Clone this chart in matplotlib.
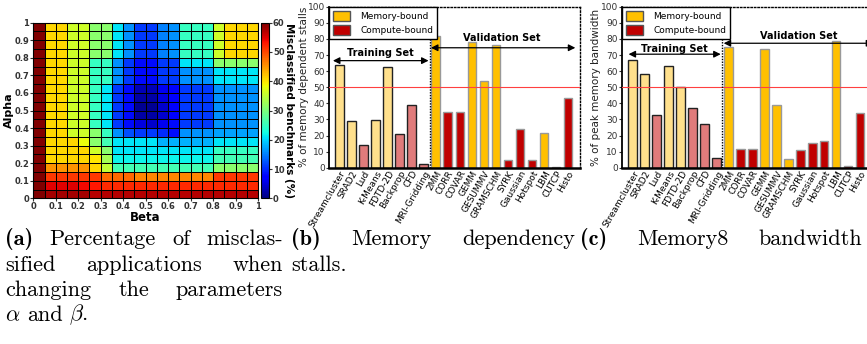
import numpy as np
import matplotlib.pyplot as plt
from matplotlib.patches import Patch

plt.rcParams['mathtext.fontset'] = 'cm'

# --- (a) misclassified benchmarks (%) ; rows: alpha bins bottom->top, cols: beta bins
top4 = [60, 41, 41, 36, 36, 31, 31, 21, 16, 11, 11, 15, 16, 25, 25, 25, 36, 41, 41, 41]
misclassified = [
    [60, 58, 58, 58, 58, 57, 57, 57, 57, 57, 57, 57, 57, 57, 57, 57, 57, 57, 57, 57],
    [60, 55, 55, 55, 54, 53, 52, 52, 52, 52, 52, 52, 52, 52, 52, 52, 52, 52, 52, 52],
    [60, 51, 51, 51, 51, 51, 48, 48, 48, 46, 46, 46, 46, 46, 46, 46, 51, 51, 51, 51],
    [60, 45, 45, 45, 45, 41, 35, 26, 26, 26, 26, 26, 26, 26, 26, 26, 31, 31, 31, 31],
    [60, 41, 41, 41, 41, 40, 33, 22, 22, 22, 22, 22, 22, 22, 22, 22, 26, 26, 26, 26],
    [60, 41, 41, 41, 41, 36, 31, 21, 21, 21, 21, 21, 21, 21, 21, 21, 25, 25, 25, 25],
    [60, 41, 41, 41, 38, 31, 26, 21, 21, 21, 21, 18, 18, 18, 18, 18, 21, 21, 21, 21],
    [60, 41, 41, 36, 36, 31, 25, 16, 12, 11, 11, 10, 8, 16, 16, 16, 17, 17, 17, 17],
    [60, 41, 41, 36, 36, 25, 21, 11, 8, 5, 4, 6, 8, 11, 11, 11, 16, 16, 16, 16],
    [60, 41, 41, 36, 36, 25, 21, 11, 8, 2, 2, 4, 7, 11, 11, 11, 16, 16, 16, 16],
    [60, 41, 41, 36, 36, 25, 21, 11, 8, 1, 1, 4, 7, 11, 11, 11, 16, 16, 16, 16],
    [60, 41, 41, 36, 36, 25, 21, 11, 8, 2, 2, 5, 7, 11, 11, 11, 16, 16, 16, 16],
    [60, 41, 41, 36, 36, 25, 21, 11, 8, 3, 3, 6, 7, 11, 11, 11, 16, 16, 16, 16],
    [60, 41, 41, 36, 36, 25, 25, 16, 11, 8, 8, 11, 11, 16, 16, 16, 21, 21, 21, 21],
    [60, 41, 41, 36, 36, 25, 25, 16, 11, 8, 8, 11, 11, 16, 16, 16, 21, 21, 21, 21],
    [60, 41, 41, 36, 36, 25, 25, 16, 11, 8, 8, 11, 11, 21, 21, 21, 31, 31, 31, 31],
    top4, top4, top4, top4,
]
tick_vals = [0, 0.1, 0.2, 0.3, 0.4, 0.5, 0.6, 0.7, 0.8, 0.9, 1]
tick_labels = ['0', '0.1', '0.2', '0.3', '0.4', '0.5', '0.6', '0.7', '0.8', '0.9', '1']

# --- (b), (c) per-benchmark data
benchmarks = ['Streamcluster', 'SRAD2', 'Lud', 'K-Means', 'FDTD-2D', 'Backprop', 'CFD',
              'MRI-Gridding', '2MM', 'CORR', 'COVAR', 'GEMM', 'GESUMMV', 'GRAMSCHM',
              'SYRK', 'Gaussian', 'Hotspot', 'LBM', 'CUTCP', 'Histo']
memory_bound = [1, 1, 0, 1, 1, 0, 0, 0, 1, 0, 0, 1, 1, 1, 0, 0, 0, 1, 0, 0]
n_training = 8
mem_stalls = [63.5, 29, 14, 29.5, 62.5, 21, 39, 2.5, 81.5, 34.5, 34.5, 78, 54, 76.5,
              5, 24, 5, 21.5, 0.4, 43.5]
peak_bw = [67, 58.5, 32.5, 63, 50, 37, 27, 6, 75, 11.5, 11.5, 74, 39, 5.5,
           11, 15.5, 16.5, 79, 1, 34]

fig = plt.figure(figsize=(8.67, 3.44), dpi=100)

# ---------------- heatmap ----------------
ax = fig.add_axes([0.0384, 0.4235, 0.2592, 0.5105])
edges = np.linspace(0, 1, 21)
mesh = ax.pcolormesh(edges, edges, np.array(misclassified), cmap='jet', vmin=0, vmax=60,
                     edgecolors='black', linewidth=0.65)
ax.set_xlim(0, 1)
ax.set_ylim(0, 1)
ax.set_xticks(tick_vals)
ax.set_xticklabels(tick_labels)
ax.set_yticks(tick_vals)
ax.set_yticklabels(tick_labels)
ax.tick_params(length=2, pad=1, labelsize=6, colors='#333333')
for lab in ax.get_xticklabels() + ax.get_yticklabels():
    lab.set_fontweight('bold')
ax.set_xlabel('Beta', fontsize=8.5, fontweight='bold')
ax.set_ylabel('Alpha', fontsize=8, fontweight='bold')
ax.xaxis.set_label_coords(0.5, -0.075)
ax.yaxis.set_label_coords(-0.086, 0.5)

cax = fig.add_axes([0.301, 0.4235, 0.0098, 0.5105])
cb = fig.colorbar(mesh, cax=cax, ticks=[0, 10, 20, 30, 40, 50, 60])
cb.ax.tick_params(length=2, pad=0.5, labelsize=6, colors='#333333')
for lab in cb.ax.get_yticklabels():
    lab.set_fontweight('bold')
cb.set_label('Misclassified benchmarks (%)', rotation=270, fontsize=7.5, fontweight='bold',
             va='center')
cb.ax.yaxis.set_label_coords(3.35, 0.5)


# ---------------- bar panels ----------------
def bar_panel(rect, values, ylabel, xlim, label_x, train_arrow, val_arrow):
    axb = fig.add_axes(rect)
    x = np.arange(len(benchmarks))
    for i, v in enumerate(values):
        train = i < n_training
        if memory_bound[i]:
            c = '#FFE08C' if train else '#FFC000'
        else:
            c = '#E07B7B' if train else '#C00000'
        axb.bar(x[i], v, width=0.72, color=c,
                edgecolor='#222222' if train else '#999999', linewidth=1.0, zorder=2)
    axb.axhline(50, color='#FF4040', linewidth=0.8, zorder=3)
    axb.axvline(n_training - 0.5, color='black', linewidth=1.0, linestyle=(0, (1, 1)), zorder=3)
    axb.set_xlim(*xlim)
    axb.set_ylim(0, 100)
    axb.set_yticks(np.arange(0, 101, 10))
    axb.tick_params(axis='y', length=2, pad=1, labelsize=6.5, colors='#333333')
    axb.tick_params(axis='x', length=0, pad=1, labelsize=6.5)
    axb.set_xticks(x)
    axb.set_xticklabels(benchmarks, rotation=60, ha='right', rotation_mode='anchor')
    axb.set_ylabel(ylabel, fontsize=7.5, color='#222222')
    axb.yaxis.set_label_coords(label_x, 0.5)
    axb.spines['left'].set_linewidth(1.3)
    axb.spines['bottom'].set_linewidth(1.8)
    for s in ('top', 'right'):
        axb.spines[s].set_linestyle((0, (1, 1.5)))
        axb.spines[s].set_linewidth(1.0)

    handles = [Patch(facecolor='#FFC000', edgecolor='#555555', label='Memory-bound'),
               Patch(facecolor='#C00000', edgecolor='#555555', label='Compute-bound')]
    leg = axb.legend(handles=handles, loc='upper left', bbox_to_anchor=(0, 1),
                     borderaxespad=0, fontsize=6.5, fancybox=False, framealpha=1,
                     edgecolor='black', handlelength=1.9, handleheight=1.3,
                     handletextpad=1.1, borderpad=0.45, labelspacing=0.5)
    leg.get_frame().set_linewidth(1.0)
    leg.set_zorder(5)

    (tx0, tx1, ty, tty, ttx) = train_arrow
    axb.annotate('', xy=(tx0, ty), xytext=(tx1, ty),
                 arrowprops=dict(arrowstyle='<|-|>', color='black', lw=0.9,
                                 mutation_scale=10, shrinkA=0, shrinkB=0), zorder=4)
    axb.text(ttx, tty, 'Training Set', ha='center', va='center', fontsize=7,
             fontweight='bold', zorder=4)
    (vx0, vx1, vy, vty, vtx) = val_arrow
    axb.annotate('', xy=(vx0, vy), xytext=(vx1, vy),
                 arrowprops=dict(arrowstyle='<|-|>', color='black', lw=0.9,
                                 mutation_scale=10, shrinkA=0, shrinkB=0),
                 annotation_clip=False, zorder=4)
    axb.text(vtx, vty, 'Validation Set', ha='center', va='center', fontsize=7,
             fontweight='bold', zorder=4)
    return axb


bar_panel([0.3795, 0.5125, 0.2895, 0.468], mem_stalls, '% of memory dependent stalls',
          (-0.873, 19.99), -0.078,
          (-0.55, 7.4, 66.5, 71.5, 3.4),
          (7.6, 19.6, 74.5, 80.5, 13.45))
bar_panel([0.7174, 0.5125, 0.2895, 0.468], peak_bw, '% of peak memory bandwidth',
          (-0.90, 20.08), -0.085,
          (-0.35, 7.35, 70.5, 74.0, 3.45),
          (7.6, 20.1, 77.3, 82.0, 13.9))

# ---------------- captions ----------------
W, H = 867.0, 344.0
cap = dict(fontsize=16, family='cmr10', va='center', ha='left')
capb = dict(fontsize=16, family='cmb10', va='center', ha='left')
renderer = fig.canvas.get_renderer()


def caption_line(words, x0, y, x1=None, first_bold=False):
    texts = []
    for k, w in enumerate(words):
        style = capb if (first_bold and k == 0) else cap
        texts.append(fig.text(x0 / W, 1 - y / H, w, **style))
    widths = [t.get_window_extent(renderer).width for t in texts]
    if x1 is None or len(words) == 1:
        gap = 6.5
    else:
        gap = (x1 - x0 - sum(widths)) / (len(words) - 1)
    x = x0
    for t, w in zip(texts, widths):
        t.set_x(x / W)
        x += w + gap


caption_line(['(a)', 'Percentage', 'of', 'misclas-'], 5, 239, 283, first_bold=True)
caption_line(['sified', 'applications', 'when'], 5, 265, 283)
caption_line(['changing', 'the', 'parameters'], 5, 290, 283)
caption_line([r'$\alpha$', 'and', r'$\beta$.'], 5, 315)

caption_line(['(b)', 'Memory', 'dependency'], 291, 239, 575, first_bold=True)
caption_line(['stalls.'], 291, 265)

caption_line(['(c)', 'Memory8', 'bandwidth'], 580, 239, 862, first_bold=True)

fig.savefig('out.png', dpi=100)
